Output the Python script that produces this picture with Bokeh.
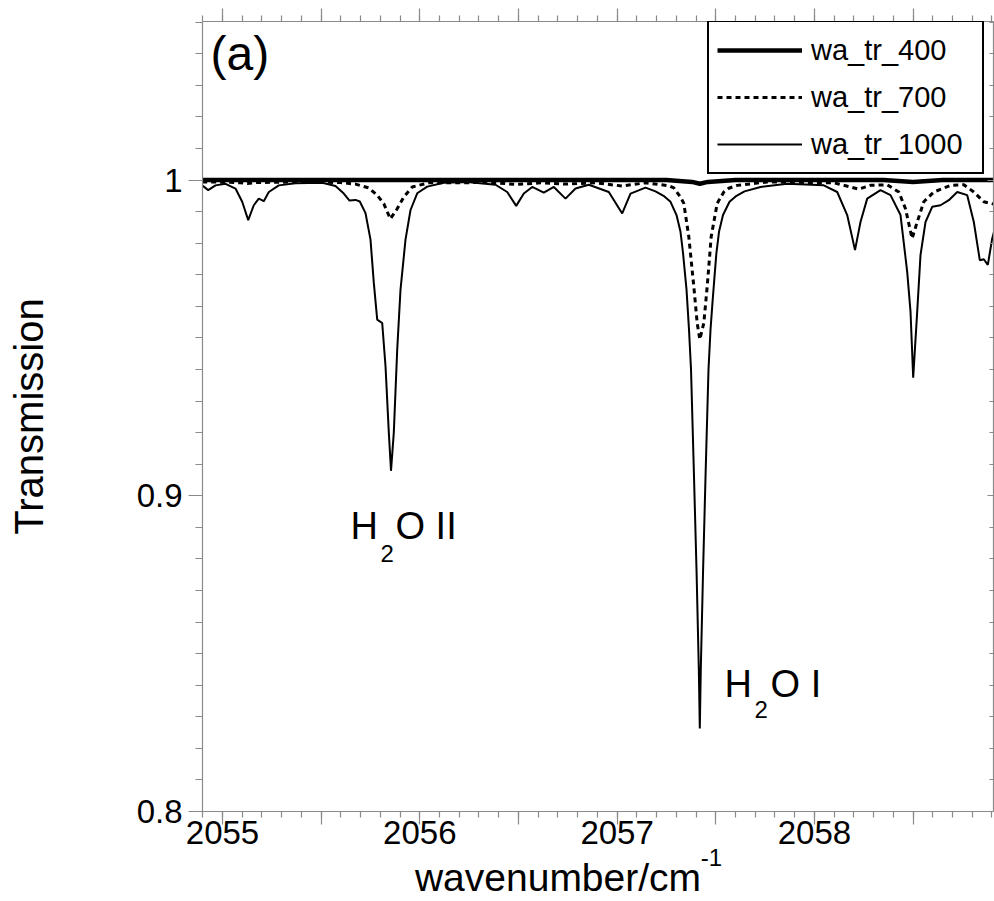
from bokeh.plotting import figure
from bokeh.models import (Range1d, LinearAxis, FixedTicker, CustomJSTickFormatter,
                          Legend, LegendItem, Label)
from bokeh.embed import file_html
from bokeh.resources import INLINE

FONT = "Liberation Sans"

# ---------------- data ----------------
x_400 = [2054.897, 2057.25, 2057.38, 2057.419, 2057.46, 2057.60, 2058.35, 2058.50, 2058.65, 2058.91]
y_400 = [1.0, 1.0, 0.9994, 0.9988, 0.9994, 1.0, 1.0, 0.9994, 1.0, 1.0]

x_700 = [2054.897, 2055.0152, 2055.0912, 2055.1252, 2055.1673, 2055.3953, 2055.5981, 2055.6741,
         2055.7415, 2055.7841, 2055.8175, 2055.8505, 2055.8855, 2055.9189, 2055.9615, 2056.0456,
         2056.3583, 2056.4886, 2056.6118, 2056.7385, 2056.8905, 2057.0258, 2057.1439, 2057.2621,
         2057.2874, 2057.3212, 2057.338, 2057.3633, 2057.3887, 2057.4059, 2057.4192, 2057.4394,
         2057.4567, 2057.4769, 2057.5073, 2057.5408, 2057.5661, 2057.6087, 2057.7608, 2058.0983,
         2058.1830, 2058.2250, 2058.2843, 2058.369, 2058.4278, 2058.4617, 2058.4950, 2058.521,
         2058.5545, 2058.6052, 2058.6898, 2058.7572, 2058.8079, 2058.8586, 2058.9078]
y_700 = [0.9994, 0.9993, 0.9991, 0.9989, 0.9992, 0.9994, 0.9992, 0.9987,
         0.9975, 0.9952, 0.9925, 0.9877, 0.9909, 0.9946, 0.9978, 0.9991,
         0.9992, 0.9986, 0.9991, 0.9987, 0.9991, 0.9981, 0.9991, 0.9982,
         0.9975, 0.9946, 0.9926, 0.9821, 0.9663, 0.9547, 0.9495, 0.9547,
         0.9663, 0.9821, 0.9926, 0.9962, 0.9974, 0.9983, 0.9994, 0.9991,
         0.9978, 0.9971, 0.9983, 0.9985, 0.9962, 0.9909, 0.9815, 0.9867,
         0.9931, 0.9962, 0.9983, 0.9985, 0.9962, 0.9931, 0.9924]

x_1000 = [2054.897, 2054.9275, 2054.9645, 2055.0152, 2055.0659, 2055.0998, 2055.1303, 2055.1586,
          2055.184, 2055.2093, 2055.2347, 2055.2853, 2055.37, 2055.5053, 2055.5727, 2055.6148,
          2055.6437, 2055.6741, 2055.6959, 2055.7248, 2055.7501, 2055.7669, 2055.7841, 2055.8094,
          2055.8262, 2055.8429, 2055.854, 2055.8682, 2055.8855, 2055.9022, 2055.9275, 2055.9529,
          2055.9868, 2056.0375, 2056.1216, 2056.2402, 2056.3837, 2056.443, 2056.4886, 2056.5271,
          2056.5697, 2056.6285, 2056.6792, 2056.7385, 2056.7891, 2056.8566, 2056.9579, 2057.0258,
          2057.0679, 2057.1439, 2057.1946, 2057.2352, 2057.2707, 2057.3011, 2057.3213, 2057.334,
          2057.3518, 2057.3644, 2057.3746, 2057.3887, 2057.4024, 2057.4141, 2057.4191, 2057.4242,
          2057.4359, 2057.4491, 2057.4632, 2057.4734, 2057.4845, 2057.5028, 2057.5165, 2057.5367,
          2057.5697, 2057.6052, 2057.6457, 2057.7268, 2057.8621, 2058.0476, 2058.1155, 2058.1662,
          2058.2058, 2058.2336, 2058.2676, 2058.335, 2058.3857, 2058.4364, 2058.4703, 2058.4871,
          2058.5007, 2058.5210, 2058.5377, 2058.5631, 2058.597, 2058.6391, 2058.6812, 2058.7238,
          2058.7745, 2058.8079, 2058.8383, 2058.8586, 2058.8789, 2058.9012, 2058.9103]
y_1000 = [0.9983, 0.9968, 0.9983, 0.9988, 0.9973, 0.9931, 0.9873, 0.9920,
          0.9941, 0.9933, 0.9962, 0.9983, 0.9990, 0.9991, 0.9981, 0.9957,
          0.9935, 0.9937, 0.9932, 0.9895, 0.9811, 0.9674, 0.9558, 0.9547,
          0.9410, 0.9200, 0.9079, 0.9200, 0.9463, 0.9653, 0.9811, 0.9905,
          0.9958, 0.9979, 0.9991, 0.9994, 0.9985, 0.9962, 0.9918, 0.9957,
          0.9978, 0.9960, 0.9978, 0.9941, 0.9973, 0.9985, 0.9962, 0.9894,
          0.9957, 0.9976, 0.9964, 0.9950, 0.9931, 0.9889, 0.9836, 0.9769,
          0.9653, 0.9526, 0.9400, 0.9084, 0.8768, 0.8452, 0.8263, 0.8452,
          0.8768, 0.9084, 0.9400, 0.9526, 0.9621, 0.9766, 0.9836, 0.9889,
          0.9931, 0.9950, 0.9964, 0.9978, 0.9988, 0.9983, 0.9962, 0.9889,
          0.9778, 0.9867, 0.9941, 0.9968, 0.9952, 0.9889, 0.9709, 0.9583,
          0.9374, 0.9583, 0.9762, 0.9867, 0.9915, 0.9920, 0.9936, 0.9962,
          0.9952, 0.9867, 0.9746, 0.9749, 0.9731, 0.9815, 0.9836]

series_names = ["wa_tr_400", "wa_tr_700", "wa_tr_1000"]

x_major_ticks = [2055.0, 2055.5, 2056.0, 2056.5, 2057.0, 2057.5, 2058.0, 2058.5]
x_minor_ticks = [round(2054.9 + 0.1 * i, 1) for i in range(41)]
y_major_ticks = [0.8, 0.9, 1.0]
y_minor_ticks = [round(0.80 + 0.01 * i, 2) for i in range(26)]

x_title = "wavenumber/cm"
x_title_sup = "-1"
x_title_center = 2056.7005      # wavenumber at the middle of the x title
x_title_sup_center = 2057.4785  # wavenumber at the middle of the superscript
y_title = "Transmission"
panel_tag = "(a)"

X_RANGE = (2054.8986, 2058.9077)
Y_RANGE = (0.8, 1.0502)

# ---------------- figure ----------------
p = figure(width=994, height=901, output_backend="svg", toolbar_location=None,
           x_range=Range1d(*X_RANGE), y_range=Range1d(*Y_RANGE),
           x_axis_location=None, y_axis_location=None,
           min_border_left=202, min_border_right=1, min_border_top=21, min_border_bottom=88)
p.xgrid.visible = False
p.ygrid.visible = False
p.outline_line_color = None
p.background_fill_color = "white"
p.border_fill_color = "white"

AX = "#8a8a8a"
xticker = FixedTicker(ticks=x_major_ticks, minor_ticks=x_minor_ticks)
yticker = FixedTicker(ticks=y_major_ticks, minor_ticks=y_minor_ticks)
xfmt = CustomJSTickFormatter(code="return Math.abs(tick - Math.round(tick)) < 1e-6 ? Math.round(tick).toString() : '';")
yfmt = CustomJSTickFormatter(code="return Math.abs(tick - 1) < 1e-9 ? '1' : tick.toFixed(1);")
blank = CustomJSTickFormatter(code="return '';")


def style(ax):
    ax.axis_line_color = AX
    ax.axis_line_width = 1.2
    ax.major_tick_line_color = AX
    ax.minor_tick_line_color = AX
    ax.major_tick_line_width = 1.2
    ax.minor_tick_line_width = 1.2
    ax.major_label_text_font = FONT
    ax.major_label_text_color = "black"
    ax.major_label_text_font_size = "33px"
    ax.major_tick_in = 0
    ax.minor_tick_in = 0


bottom = LinearAxis(ticker=xticker, formatter=xfmt)
style(bottom)
bottom.major_tick_out = 13
bottom.minor_tick_out = 6
bottom.major_label_standoff = -4
p.add_layout(bottom, "below")


def title_axis(center, text, size, standoff):
    ax = LinearAxis(ticker=FixedTicker(ticks=[center], minor_ticks=[]),
                    formatter=CustomJSTickFormatter(args=dict(t=text), code="return t;"))
    ax.axis_line_color = None
    ax.major_tick_line_color = None
    ax.minor_tick_line_color = None
    ax.major_tick_out = 0
    ax.major_tick_in = 0
    ax.minor_tick_out = 0
    ax.minor_tick_in = 0
    ax.major_label_text_font = FONT
    ax.major_label_text_color = "black"
    ax.major_label_text_font_size = size
    ax.major_label_standoff = standoff
    p.add_layout(ax, "below")


# x-axis title "wavenumber/cm" with its superscript "-1"
title_axis(x_title_sup_center, x_title_sup, "24px", 2)
title_axis(x_title_center, x_title, "39px", -13)

top = LinearAxis(ticker=xticker, formatter=blank)
style(top)
top.major_tick_out = 13
top.minor_tick_out = 6
top.major_label_text_font_size = "0px"
top.major_label_standoff = 0
p.add_layout(top, "above")

left = LinearAxis(ticker=yticker, formatter=yfmt, axis_label=y_title)
style(left)
left.major_tick_out = 14
left.minor_tick_out = 7
left.major_label_standoff = 6
left.axis_label_text_font = FONT
left.axis_label_text_font_style = "normal"
left.axis_label_text_font_size = "40px"
left.axis_label_text_color = "black"
left.axis_label_standoff = 83
p.add_layout(left, "left")

right = LinearAxis(ticker=yticker, formatter=blank)
style(right)
right.major_tick_out = 0
right.minor_tick_out = 0
right.major_tick_in = 6
right.minor_tick_in = 4
right.major_label_text_font_size = "0px"
right.major_label_standoff = 0
p.add_layout(right, "right")

# ---------------- lines ----------------
r1000 = p.line(x_1000, y_1000, line_color="black", line_width=2)
r700 = p.line(x_700, y_700, line_color="black", line_width=3, line_dash="5 4")
r400 = p.line(x_400, y_400, line_color="black", line_width=4.5)

legend = Legend(items=[LegendItem(label=series_names[0], renderers=[r400]),
                       LegendItem(label=series_names[1], renderers=[r700]),
                       LegendItem(label=series_names[2], renderers=[r1000])],
                location=(505, 637), margin=0, padding=8, spacing=7,
                glyph_width=85, glyph_height=40, label_height=40, label_width=163,
                label_standoff=9, label_text_font=FONT, label_text_font_size="29px",
                label_text_color="black", border_line_color="black", border_line_width=2.5,
                border_line_alpha=1.0,
                background_fill_color="white", background_fill_alpha=1.0)
p.add_layout(legend)


def lab(x, y, text, size):
    p.add_layout(Label(x=x, y=y, text=text, text_font=FONT, text_font_size=size,
                       text_color="black", text_baseline="alphabetic", text_align="left"))


lab(2054.9392, 1.0401, panel_tag, "48px")
# H2O II
lab(2055.6488, 0.89030, "H", "38px")
lab(2055.8008, 0.88165, "2", "24px")
lab(2055.8768, 0.89030, "O II", "38px")
# H2O I
lab(2057.5443, 0.84040, "H", "38px")
lab(2057.6964, 0.83215, "2", "24px")
lab(2057.7775, 0.84040, "O I", "38px")

open("out.html", "w").write(file_html(p, INLINE))
